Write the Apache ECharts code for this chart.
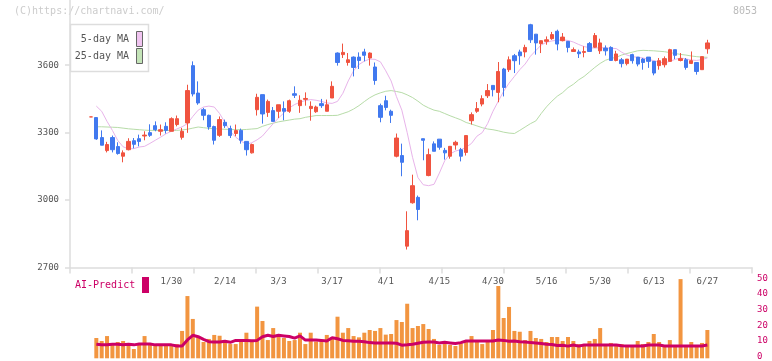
<!DOCTYPE html>
<html><head><meta charset="utf-8">
<script src="https://cdn.jsdelivr.net/npm/echarts@6/dist/echarts.min.js"></script>
<style>html,body{margin:0;padding:0;background:#fff}#c{width:772px;height:361px}</style>
</head><body><div id="c"></div>
<script>
const dates = ["1/8","1/9","1/10","1/14","1/15","1/16","1/17","1/20","1/21","1/22","1/23","1/24","1/27","1/28","1/29","1/30","1/31",
"2/3","2/4","2/5","2/6","2/7","2/10","2/12","2/13","2/14","2/17","2/18","2/19","2/20","2/21","2/25","2/26","2/27","2/28",
"3/3","3/4","3/5","3/6","3/7","3/10","3/11","3/12","3/13","3/14","3/17","3/18","3/19","3/21","3/24","3/25","3/26","3/27","3/28","3/31",
"4/1","4/2","4/3","4/4","4/7","4/8","4/9","4/10","4/11","4/14","4/15","4/16","4/17","4/18","4/21","4/22","4/23","4/24","4/25","4/28","4/30",
"5/1","5/2","5/7","5/8","5/9","5/12","5/13","5/14","5/15","5/16","5/19","5/20","5/21","5/22","5/23","5/26","5/27","5/28","5/29","5/30",
"6/2","6/3","6/4","6/5","6/6","6/9","6/10","6/11","6/12","6/13","6/16","6/17","6/18","6/19","6/20","6/23","6/24","6/25","6/26","6/27"];
const shownDates = ["1/30","2/14","3/3","3/17","4/1","4/15","4/30","5/16","5/30","6/13","6/27"];
const openP = [3370,3367,3278,3220,3278,3238,3195,3224,3264,3273,3285,3300,3331,3306,3328,3306,3336,3279,3343,3598,
3476,3402,3377,3327,3288,3346,3318,3296,3310,3261,3210,3402,3469,3390,3398,3395,3407,3395,3473,3420,
3448,3407,3393,3429,3395,3454,3654,3647,3612,3636,3636,3659,3632,3592,3420,3442,3395,3195,3198,2795,
2988,3012,3273,3109,3250,3271,3221,3195,3245,3224,3212,3353,3395,3427,3464,3510,3479,3583,3580,3642,
3659,3659,3780,3738,3696,3706,3718,3751,3709,3706,3661,3659,3657,3696,3680,3664,3676,3679,3621,3624,
3607,3647,3636,3627,3636,3617,3598,3602,3617,3669,3621,3624,3608,3612,3580,3673];
const closeP = [3370,3272,3244,3247,3224,3207,3210,3261,3248,3261,3289,3288,3313,3313,3310,3362,3362,3306,3487,3472,
3432,3377,3325,3266,3358,3331,3287,3309,3266,3224,3247,3457,3383,3439,3350,3424,3395,3442,3466,3444,
3452,3417,3414,3420,3424,3506,3612,3657,3624,3590,3621,3644,3654,3532,3368,3412,3377,3276,3168,2864,
3064,2958,3266,3202,3217,3235,3210,3239,3257,3195,3287,3380,3407,3451,3487,3491,3572,3501,3624,3620,
3642,3679,3713,3699,3709,3713,3736,3694,3725,3679,3669,3651,3661,3661,3732,3699,3664,3621,3650,3607,
3627,3620,3605,3612,3617,3565,3620,3629,3669,3644,3629,3590,3620,3572,3638,3699];
const lowP = [3370,3268,3244,3212,3212,3202,3168,3221,3230,3239,3266,3281,3306,3287,3296,3306,3328,3269,3299,3461,
3424,3355,3313,3247,3281,3321,3276,3284,3251,3198,3207,3376,3340,3370,3350,3365,3355,3388,3454,3388,
3420,3353,3388,3410,3395,3454,3598,3632,3598,3550,3583,3617,3598,3513,3346,3399,3343,3190,3106,2780,
2984,2910,3177,3106,3217,3224,3180,3184,3224,3172,3198,3336,3388,3417,3454,3461,3435,3461,3570,3565,
3602,3635,3699,3647,3654,3691,3713,3666,3706,3657,3659,3632,3635,3661,3677,3650,3643,3621,3617,3590,
3599,3607,3595,3580,3588,3555,3580,3590,3617,3627,3617,3580,3605,3558,3580,3651];
const highP = [3370,3367,3310,3259,3287,3257,3221,3275,3276,3291,3306,3337,3350,3336,3346,3368,3376,3321,3513,3617,
3528,3410,3380,3331,3372,3358,3331,3336,3318,3261,3251,3473,3469,3447,3414,3424,3439,3447,3506,3466,
3479,3439,3420,3450,3447,3528,3657,3696,3654,3639,3657,3673,3657,3612,3429,3464,3402,3296,3251,2950,
3113,3020,3273,3229,3261,3271,3232,3239,3264,3232,3287,3390,3436,3466,3516,3510,3614,3588,3639,3650,
3669,3691,3784,3738,3709,3728,3748,3758,3743,3706,3679,3669,3684,3703,3743,3718,3688,3684,3664,3632,
3627,3651,3636,3632,3636,3617,3632,3639,3673,3669,3654,3632,3661,3612,3638,3713];
const ma5 = [null,3418,3395,3350,3310,3265,3237,3228,3229,3236,3239,3252,3266,3280,3295,3306,3316,3326,3340,3372,
3400,3414,3418,3414,3385,3345,3305,3280,3262,3248,3255,3268,3285,3313,3340,3365,3388,3410,3425,3435,
3443,3447,3444,3439,3432,3430,3439,3475,3530,3575,3603,3618,3627,3626,3615,3575,3530,3460,3400,3300,
3190,3100,3068,3064,3070,3120,3175,3205,3218,3224,3235,3252,3284,3300,3340,3395,3440,3484,3520,3550,
3580,3605,3640,3665,3690,3702,3708,3711,3713,3710,3703,3692,3683,3678,3676,3678,3677,3675,3674,3658,
3645,3638,3635,3632,3626,3620,3614,3610,3617,3626,3632,3628,3623,3621,3625,3632];
const ma25 = [null,3326,3326,3325,3324,3323,3320,3317,3315,3313,3311,3310,3310,3310,3310,3309,3310,3312,3315,3320,
3325,3322,3319,3317,3316,3315,3314,3313,3313,3314,3316,3318,3328,3336,3342,3348,3352,3356,3360,3362,
3368,3372,3376,3376,3376,3376,3377,3385,3393,3405,3420,3438,3455,3468,3477,3484,3487,3483,3478,3468,
3456,3440,3422,3410,3400,3395,3385,3375,3366,3357,3345,3338,3330,3322,3316,3313,3308,3302,3298,3296,
3310,3325,3340,3352,3385,3415,3440,3462,3478,3500,3515,3535,3550,3570,3590,3608,3622,3630,3635,3645,
3652,3658,3664,3666,3665,3664,3662,3660,3656,3652,3648,3645,3641,3638,3636,3635];
const volume = [null,12.7,10.8,13.9,9.4,10.2,10.8,9.4,5.8,9.4,13.9,8.9,8.9,7.7,8.9,8.9,8.9,17.1,38.9,24.6,
12.7,10.2,12.1,14.6,14.1,11.4,8.9,8.9,10.8,16.0,10.2,32.3,23.3,11.4,18.9,15.2,12.7,10.8,11.4,16.0,
8.9,16.0,10.5,10.8,14.6,12.9,26.0,16.0,18.9,13.9,13.1,16.0,17.7,17.1,18.9,14.8,15.2,23.9,22.7,34.1,
18.9,20.2,21.4,18.3,12.1,8.3,10.8,8.3,7.7,9.4,10.8,13.9,10.8,8.9,10.2,17.7,45.2,25.2,32.1,17.1,
16.6,11.4,17.1,12.7,12.1,10.2,13.3,13.3,10.8,13.3,10.8,8.9,8.9,10.8,12.1,18.9,8.3,9.6,8.3,8.9,
7.7,7.7,10.8,8.9,10.2,15.2,10.2,8.3,11.4,8.3,49.5,8.3,10.2,7.7,9.6,17.7];
const aiPredict = [null,8.8,8.4,8.4,8.8,8.8,8.4,8.8,8.4,9.0,9.0,9.0,8.4,8.4,8.4,8.4,7.7,7.7,11.5,14.4,
13.5,11.8,10.4,10.2,10.2,10.6,10.0,11.2,11.2,11.2,11.0,11.2,13.5,14.4,13.6,14.4,14.0,13.6,12.6,14.0,
11.4,11.4,11.4,11.2,10.8,12.9,12.2,11.2,11.0,10.6,10.6,10.4,9.8,9.6,9.6,9.6,9.6,9.4,8.2,8.4,
8.8,9.4,10.0,10.2,10.2,9.6,10.0,9.6,9.2,9.8,10.8,10.8,10.8,10.8,10.8,10.8,11.4,11.2,10.6,10.8,
10.4,10.2,9.8,9.6,9.2,8.8,8.6,8.0,8.2,7.6,8.3,7.6,8.3,8.3,8.3,8.3,8.3,8.3,8.3,7.8,
7.7,7.7,7.7,7.7,8.3,8.3,8.3,7.7,7.7,7.7,7.7,7.7,7.7,7.7,7.7,8.3];
const priceTicks = [2700,3000,3300,3600];
const volumeTicks = [0,10,20,30,40,50];

const FONT = '"DejaVu Sans Mono", monospace';
const candleData = dates.map((d,i)=>[openP[i],closeP[i],lowP[i],highP[i]]);
const RED='#f0533f', BLUE='#4179ef';
const chart = echarts.init(document.getElementById('c'), null, {renderer:'canvas'});
const option = {
  animation:false,
  backgroundColor:'#fff',
  grid:[
    {left:70, top:0, width:682, height:267.5},
    {left:88.28, top:0, width:621.76, height:267.5},
    {left:88.28, top:278.3, width:621.76, height:80},
    {left:70, top:278.3, width:682, height:80}
  ],
  xAxis:[
    {gridIndex:0, type:'value', min:0, max:11, interval:1,
     axisLine:{show:true, lineStyle:{color:'#dddddd', width:1.5}},
     axisTick:{show:true, length:6, lineStyle:{color:'#dddddd', width:1.5}},
     axisLabel:{show:false}, splitLine:{show:false}},
    {gridIndex:1, type:'category', data:dates, boundaryGap:true,
     axisLine:{show:false}, axisTick:{show:false}, splitLine:{show:false},
     axisLabel:{interval:(i,v)=>shownDates.includes(dates[i]), margin:10, color:'#555', fontSize:9, fontFamily:FONT}},
    {gridIndex:2, type:'category', data:dates, boundaryGap:true, show:false},
    {gridIndex:3, type:'value', min:0, max:1, show:false}
  ],
  yAxis:[
    {gridIndex:0, type:'value', min:2700, max:3890, interval:300,
     axisLine:{show:true, lineStyle:{color:'#dddddd', width:1.5}},
     axisTick:{show:true, length:5, customValues:priceTicks, lineStyle:{color:'#dddddd', width:1.5}},
     axisLabel:{customValues:priceTicks, formatter:(v)=>String(v), color:'#555', fontSize:9, fontFamily:FONT, margin:11},
     splitLine:{show:false}},
    {gridIndex:1, type:'value', min:2700, max:3890, show:false},
    {gridIndex:2, type:'value', min:0, max:50, show:false},
    {gridIndex:3, type:'value', min:0, max:50, interval:10, position:'right',
     axisLine:{show:false}, axisTick:{show:false}, splitLine:{show:false},
     axisLabel:{customValues:volumeTicks, formatter:(v)=>String(v), color:'#cc0066', fontSize:9, fontFamily:FONT, margin:5}}
  ],
  series:[
    {type:'line', xAxisIndex:1, yAxisIndex:1, data:ma25, symbol:'none', lineStyle:{color:'#b7dca8', width:1}, z:2},
    {type:'line', xAxisIndex:1, yAxisIndex:1, data:ma5, symbol:'none', lineStyle:{color:'#e8b4ea', width:1}, z:2},
    {type:'candlestick', xAxisIndex:1, yAxisIndex:1, data:candleData, barWidth:3.8, z:3,
     itemStyle:{color:RED, color0:BLUE, borderColor:RED, borderColor0:BLUE, borderWidth:1}},
    {type:'bar', xAxisIndex:2, yAxisIndex:2, data:volume, barWidth:4, itemStyle:{color:'#f29540'}},
    {type:'line', xAxisIndex:2, yAxisIndex:2, data:aiPredict, symbol:'none', lineStyle:{color:'#cc0066', width:3}, z:5}
  ],
  graphic:[
    {type:'text', left:14, top:6, style:{text:'(C)https://chartnavi.com/', fill:'#cccccc', font:'10px '+FONT}},
    {type:'text', right:15, top:6, style:{text:'8053', fill:'#bbbbbb', font:'10px '+FONT}},
    {type:'rect', shape:{x:70.5, y:24.5, width:78, height:47}, style:{fill:'#fff', stroke:'#dddddd', lineWidth:1.5}, z:10},
    {type:'text', x:129, y:39, style:{text:'5-day MA', fill:'#555', font:'10px '+FONT, align:'right', verticalAlign:'middle'}, z:11},
    {type:'text', x:129, y:56, style:{text:'25-day MA', fill:'#555', font:'10px '+FONT, align:'right', verticalAlign:'middle'}, z:11},
    {type:'rect', shape:{x:136.5, y:31.5, width:6, height:15}, style:{fill:'#f0c4f0', stroke:'#666', lineWidth:1}, z:11},
    {type:'rect', shape:{x:136.5, y:48.5, width:6, height:15}, style:{fill:'#c4e4b8', stroke:'#666', lineWidth:1}, z:11},
    {type:'text', x:75, y:285, style:{text:'AI-Predict', fill:'#cc0066', font:'10px '+FONT, verticalAlign:'middle'}, z:11},
    {type:'rect', shape:{x:142, y:277, width:7, height:16}, style:{fill:'#cc0066'}, z:11}
  ]
};
chart.setOption(option);
</script></body></html>
